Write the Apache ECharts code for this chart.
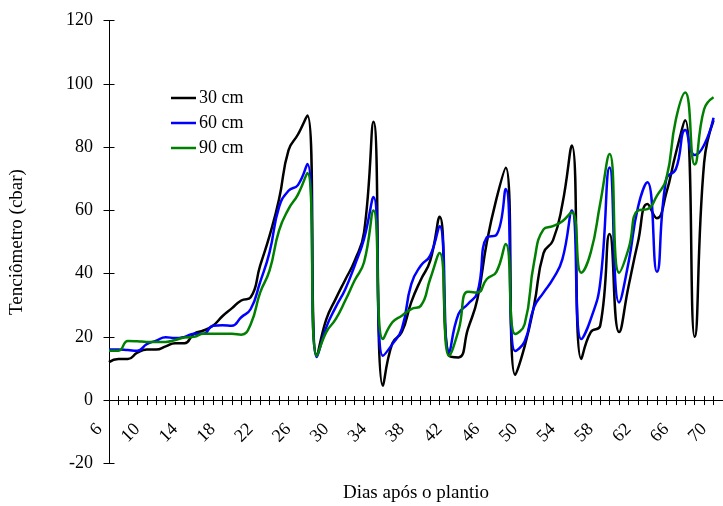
<!DOCTYPE html>
<html>
<head>
<meta charset="utf-8">
<script src="https://cdn.jsdelivr.net/npm/echarts@6/dist/echarts.min.js"></script>
<style>
html,body{margin:0;padding:0;background:#fff;}
#chart{width:723px;height:506px;}
</style>
</head>
<body>
<div id="chart"></div>
<script>
// Days after planting (axis extends one tick past the last measured day)
const days = [6,7,8,9,10,11,12,13,14,15,16,17,18,19,20,21,22,23,24,25,26,27,28,29,30,31,32,33,34,35,36,37,38,39,40,41,42,43,44,45,46,47,48,49,50,51,52,53,54,55,56,57,58,59,60,61,62,63,64,65,66,67,68,69,70,71];

const seriesNames = ['30 cm', '60 cm', '90 cm'];

const cm30 = [12,13,13,15,16,16,17,18,18,21,22,23.5,26.5,29,31.5,32.5,42.5,52,63.5,79,84,90,14,25.5,32,38,44,53,88,4.5,18,21.5,31,38,44,58,14,13.5,22.5,32,50,63.5,73.5,8,17,30,46.5,50.5,62,80.5,13,21.5,23.5,52.5,21.5,36,50,62,57.5,65.5,78,88.5,20,75,88.5];

const cm60 = [16,16,15.8,15.6,17.7,18.8,19.9,19.6,20,21,21,23.5,23.7,23.5,26.2,28.8,37.3,46.8,61,66.2,68,74.7,13.6,23,29.4,35,42.5,51,64.2,14,17.7,22.5,36.7,42.5,45.7,55,15.2,27.2,30.4,34,51.5,52.2,66.8,15.5,18.5,29.4,34,38.3,44.6,60,19.3,25.6,37.1,73.6,30.9,43.5,61,68.9,40.6,70,73,85.4,77.5,80.7,89.3];

const cm90 = [15.6,15.6,18.7,18.6,18.4,18.4,18.4,19,19.8,20,21,21,21,21,20.7,24,34,41,53.6,60.4,65,71.8,14,21.5,25.6,31.4,37.8,43.6,60,19.3,24.6,26.7,28.8,29.8,38.3,46.5,14,22,34.3,34,38.3,40.5,49.4,20.9,24,43.6,54,55,56.6,59.4,40.3,46.7,62.2,77.8,40.3,47.8,60,60.4,64.6,70,88.6,97.3,74.5,92,95.8];

const yMin = -20, yMax = 120, yStep = 20;

const font = "'Liberation Serif', 'Times New Roman', serif";
const axisCol = '#000';
const colors = ['#000000', '#0000ff', '#008000'];

const gridTop = 20.7, gridBottom = 42.7, chartH = 506;
// x axis sits at value 0: offset it up from the grid bottom
const zeroOffset = -((chartH - gridTop - gridBottom) * (0 - yMin) / (yMax - yMin));

const chart = echarts.init(document.getElementById('chart'), null, {renderer: 'canvas'});

const catAxisBase = {
  type: 'category',
  data: days.map(String),
  boundaryGap: false,
  position: 'bottom',
  offset: zeroOffset,
  axisLine: {onZero: false, lineStyle: {color: axisCol, width: 1}},
  splitLine: {show: false}
};

const valAxisBase = {
  type: 'value',
  min: yMin, max: yMax, interval: yStep,
  axisLine: {show: true, lineStyle: {color: axisCol, width: 1}},
  splitLine: {show: false}
};

const option = {
  backgroundColor: '#fff',
  animation: false,
  textStyle: {fontFamily: font, color: '#000'},
  grid: {left: 109, right: 0, top: gridTop, bottom: gridBottom, containLabel: false, outerBoundsMode: 'none'},
  legend: {
    orient: 'vertical',
    left: 171, top: 89, padding: 0,
    icon: 'rect',
    itemWidth: 25, itemHeight: 2.5, itemGap: 7,
    textStyle: {fontFamily: font, fontSize: 18, color: '#000', padding: [0,0,0,-2]},
    data: seriesNames
  },
  xAxis: [
    Object.assign({}, catAxisBase, {
      name: 'Dias após o plantio',
      nameLocation: 'middle',
      nameGap: 83,
      nameTextStyle: {fontFamily: font, fontSize: 19, color: '#000'},
      axisTick: {show: true, inside: false, length: 5, interval: 0, lineStyle: {color: axisCol}},
      axisLabel: {show: true, interval: 3, rotate: 45, margin: 17, padding: [0, 13.5, 0, 0],
                  fontFamily: font, fontSize: 18, color: '#000'}
    }),
    Object.assign({}, catAxisBase, {
      axisTick: {show: true, inside: true, length: 4, interval: 0, lineStyle: {color: axisCol}},
      axisLabel: {show: false}
    })
  ],
  yAxis: [
    Object.assign({}, valAxisBase, {
      position: 'left',
      name: 'Tenciômetro (cbar)',
      nameLocation: 'middle',
      nameGap: 82,
      nameTextStyle: {fontFamily: font, fontSize: 19, color: '#000'},
      axisTick: {show: true, inside: false, length: 5.5, lineStyle: {color: axisCol}},
      axisLabel: {show: true, margin: 16, fontFamily: font, fontSize: 18, color: '#000'}
    }),
    Object.assign({}, valAxisBase, {
      position: 'left',
      axisTick: {show: true, inside: true, length: 5.5, lineStyle: {color: axisCol}},
      axisLabel: {show: false}
    })
  ],
  series: [
    {name: seriesNames[0], type: 'line', data: cm30},
    {name: seriesNames[1], type: 'line', data: cm60},
    {name: seriesNames[2], type: 'line', data: cm90}
  ].map((s, i) => Object.assign(s, {
    xAxisIndex: 0, yAxisIndex: 0,
    smooth: 0.5, symbol: 'none', showSymbol: false,
    color: colors[i],
    lineStyle: {width: 2.5, color: colors[i]},
    itemStyle: {color: colors[i]},
    z: 3
  }))
};

chart.setOption(option);
</script>
</body>
</html>
